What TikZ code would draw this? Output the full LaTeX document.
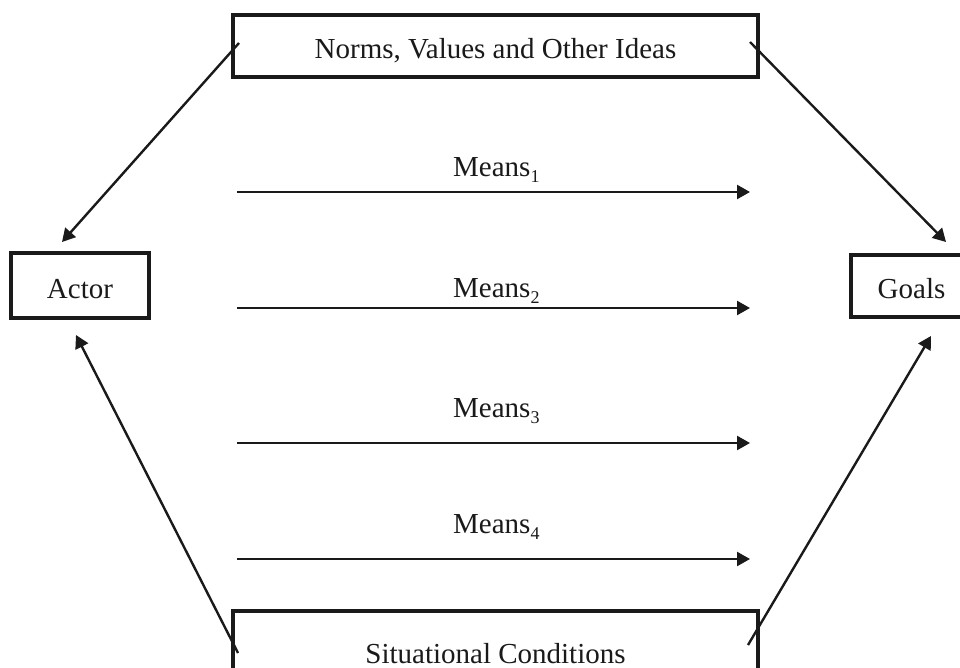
\documentclass[tikz,border=0pt]{standalone}
\usepackage{fontspec}
\setmainfont{Liberation Serif}
\usetikzlibrary{arrows.meta}
\definecolor{ink}{HTML}{1A1A1A}
\newcommand{\bigfnt}{\fontsize{29}{34}\selectfont}
\newcommand{\sbs}[1]{\raisebox{-6pt}{\fontsize{18}{18}\selectfont #1}}
\begin{document}
\begin{tikzpicture}[x=1pt,y=-1pt,
  box/.style={draw=ink, line width=3.6pt, text=ink, text height=25pt, text depth=0pt, inner sep=0pt, font=\bigfnt},
  arr/.style={draw=ink, line width=2.4pt, -{Triangle[length=13pt,width=14pt]}},
  lbl/.style={anchor=base west, inner sep=0pt, text=ink, font=\bigfnt}]
\path[use as bounding box, fill=white] (0,0) rectangle (960,668);
\clip (0,0) rectangle (960,668);
% boxes
\node[box, minimum width=525pt, minimum height=62pt] (norms) at (495.5,46) {Norms, Values and Other Ideas};
\node[box, minimum width=138pt, minimum height=65pt] (actor) at (80,285.5) {Actor};
\node[box, minimum width=121pt, minimum height=62pt] (goals) at (911.5,286) {Goals};
\node[box, minimum width=525pt, minimum height=79pt] (sit) at (495.5,650.5) {Situational Conditions};
% connector end points
\coordinate (nL) at (239,43);
\coordinate (nR) at (750,42);
\coordinate (aT) at (62,242);
\coordinate (gT) at (946,242);
\coordinate (sL) at (238,653);
\coordinate (sR) at (748,645);
\coordinate (aB) at (76,335);
\coordinate (gB) at (931,336);
\draw[arr] (nL) -- (aT);
\draw[arr] (nR) -- (gT);
\draw[arr] (sL) -- (aB);
\draw[arr] (sR) -- (gB);
% means
\coordinate (m1s) at (237,192); \coordinate (m1e) at (750,192);
\coordinate (m2s) at (237,308); \coordinate (m2e) at (750,308);
\coordinate (m3s) at (237,443); \coordinate (m3e) at (750,443);
\coordinate (m4s) at (237,559); \coordinate (m4e) at (750,559);
\draw[arr] (m1s) -- (m1e);
\draw[arr] (m2s) -- (m2e);
\draw[arr] (m3s) -- (m3e);
\draw[arr] (m4s) -- (m4e);
\node[lbl] (l1) at (453,177) {Means\sbs{1}};
\node[lbl] (l2) at (453,297) {Means\sbs{2}};
\node[lbl] (l3) at (453,417) {Means\sbs{3}};
\node[lbl] (l4) at (453,533) {Means\sbs{4}};
\end{tikzpicture}
\end{document}
